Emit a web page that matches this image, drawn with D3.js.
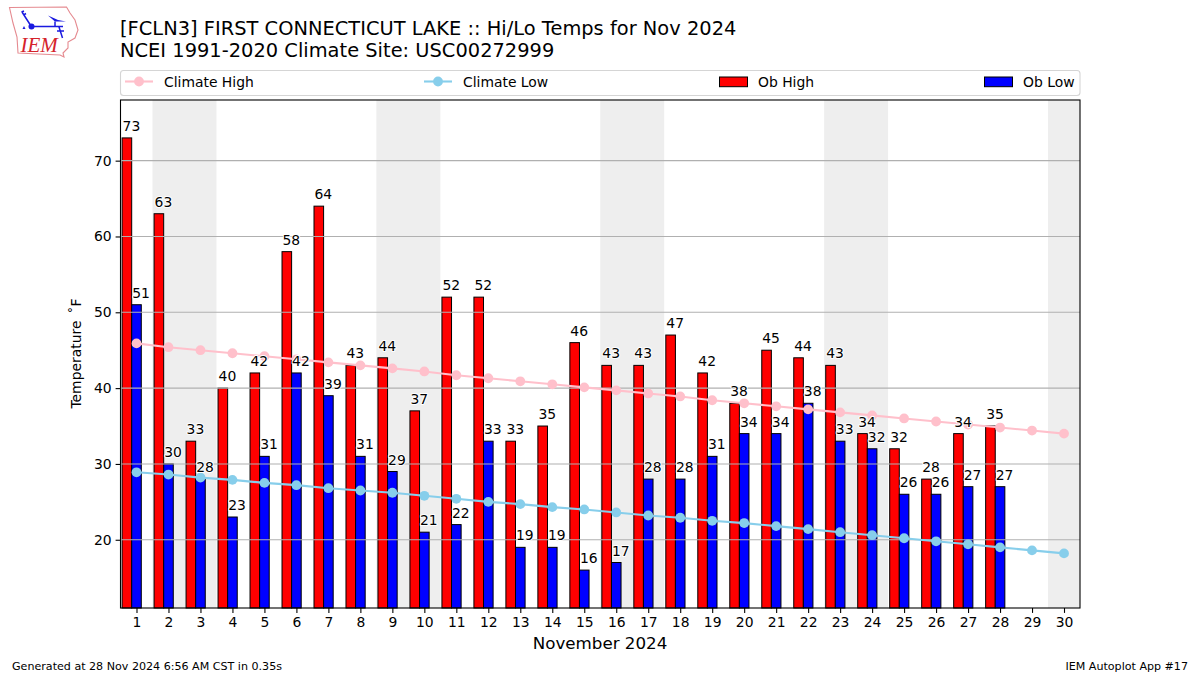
<!DOCTYPE html>
<html><head><meta charset="utf-8">
<script src="https://cdn.jsdelivr.net/npm/d3@7"></script>
<style>
html,body{margin:0;padding:0;background:#fff}
svg{display:block}
text{font-family:"DejaVu Sans",sans-serif;fill:#000}
</style></head><body>
<script>
const days = d3.range(1, 31);
const obDays = d3.range(1, 29);
const obHigh = [73,63,33,40,42,58,64,43,44,37,52,52,33,35,46,43,43,47,42,38,45,44,43,34,32,28,34,35];
const obLow = [51,30,28,23,31,42,39,31,29,21,22,33,19,19,16,17,28,28,31,34,34,38,33,32,26,26,27,27];
const climateHigh = [45.9,45.4,45.0,44.6,44.2,43.8,43.4,43.0,42.6,42.2,41.7,41.3,40.9,40.5,40.1,39.7,39.3,38.9,38.4,38.0,37.6,37.2,36.8,36.4,36.0,35.6,35.2,34.8,34.4,34.0];
const climateLow = [28.9,28.6,28.2,27.9,27.5,27.2,26.8,26.5,26.2,25.8,25.4,25.0,24.7,24.3,24.0,23.6,23.2,22.9,22.5,22.2,21.8,21.4,21.0,20.6,20.2,19.8,19.4,19.0,18.6,18.2];
const weekendSpans = [[1.5,3.5],[8.5,10.5],[15.5,17.5],[22.5,24.5],[29.5,30.5]];
const yTicks = [20,30,40,50,60,70];
const titleLines = ["[FCLN3] FIRST CONNECTICUT LAKE :: Hi/Lo Temps for Nov 2024","NCEI 1991-2020 Climate Site: USC00272999"];

const W=1200,H=675,L=120.5,R=1080,T=100,B=608;
const svg=d3.select("body").append("svg").attr("width",W).attr("height",H);
const x=d3.scaleLinear().domain([0.5,30.5]).range([L,R]);
const y=d3.scaleLinear().domain([11,78]).range([B,T]);

// logo
const logo=svg.append("g").attr("fill","none");
logo.append("path").attr("d","M9.5,7.5 L66.5,7 L70,13 L75,20 L78,30 L75,38 L68,42 L68,48 L63,53 L64,57 L60,55 L18,53 L17,37 L13,23 Z")
  .attr("stroke","#e58a90").attr("stroke-width",1.1);
const blue="#1a1ae0";
logo.append("path").attr("d","M31.5,26.5 H63 M22,12 L31,26 M21.5,12 L24,11 M23.5,15 L26,13.5 M55,21.5 V27 M59,27 L62.5,38 M57,31 H64")
  .attr("stroke",blue).attr("stroke-width",1.5);
logo.append("circle").attr("cx",31.5).attr("cy",26.5).attr("r",3).attr("fill",blue);
logo.append("path").attr("d","M48,15.5 L58,20 L66,21.5 L55,21.5 Z").attr("fill",blue);
logo.append("path").attr("d","M24,26 L25.5,29 L22.5,29 Z").attr("fill",blue);
logo.append("text").attr("x",20.5).attr("y",52).text("IEM")
  .style("font-family","'Liberation Serif',serif").style("font-style","italic").style("font-size","21px").style("fill","#d5232b");

// titles
svg.selectAll("text.title").data(titleLines).join("text").attr("class","title")
  .attr("x",120).attr("y",(d,i)=>35+i*22).style("font-size","19.4px").style("letter-spacing","0.02px").text(d=>d);

// shading
svg.selectAll("rect.wk").data(weekendSpans).join("rect").attr("class","wk")
  .attr("x",d=>x(d[0])).attr("width",d=>x(d[1])-x(d[0])).attr("y",T).attr("height",B-T).attr("fill","#eeeeee");

// bars
const bw=0.3;
const bars=(data,off,fill)=>svg.append("g").selectAll("rect").data(data).join("rect")
  .attr("x",(d,i)=>x(obDays[i]+off)).attr("width",x(bw)-x(0))
  .attr("y",d=>y(d)).attr("height",d=>B-y(d))
  .attr("fill",fill).attr("stroke","#000").attr("stroke-width",1);
bars(obHigh,-0.45,"#ff0000");
bars(obLow,-0.15,"#0000ff");

// grid
svg.append("g").selectAll("line").data(yTicks).join("line")
  .attr("x1",L).attr("x2",R).attr("y1",d=>y(d)).attr("y2",d=>y(d))
  .attr("stroke","#b0b0b0").attr("stroke-width",1.1);

// climate lines
const line=d3.line().x((d,i)=>x(days[i])).y(d=>y(d));
const series=(vals,color)=>{
  svg.append("path").datum(vals).attr("d",line).attr("fill","none").attr("stroke",color).attr("stroke-width",2.1);
  svg.append("g").selectAll("circle").data(vals).join("circle")
    .attr("cx",(d,i)=>x(days[i])).attr("cy",d=>y(d)).attr("r",4.9).attr("fill",color);
};
series(climateHigh,"#ffc0cb");
series(climateLow,"#87ceeb");

// value labels
const labels=(data,off)=>svg.append("g").selectAll("text").data(data).join("text")
  .attr("x",(d,i)=>x(obDays[i]+off)+0.5).attr("y",d=>y(d)-7)
  .style("font-size","13.9px")
  .attr("stroke","#fff").attr("stroke-width",2).attr("stroke-linejoin","round").attr("paint-order","stroke")
  .text(d=>d);
labels(obHigh,-0.45);
labels(obLow,-0.15);

// axes frame
const xAxis=d3.axisBottom(x).tickValues(days).tickFormat(d3.format("d")).tickSize(4.9).tickPadding(4);
const yAxis=d3.axisLeft(y).tickValues(yTicks).tickFormat(d3.format("d")).tickSize(4.9).tickPadding(4);
const gx=svg.append("g").attr("transform",`translate(0,${B})`).call(xAxis);
const gy=svg.append("g").attr("transform",`translate(${L},0)`).call(yAxis);
[gx,gy].forEach(g=>{g.select(".domain").remove();g.selectAll("text").style("font-size","13.9px").style("font-family","'DejaVu Sans',sans-serif");g.selectAll("line").attr("stroke","#000").attr("stroke-width",1.1);});
svg.append("rect").attr("x",L).attr("y",T).attr("width",R-L).attr("height",B-T).attr("fill","none").attr("stroke","#000").attr("stroke-width",1.1);

svg.append("text").attr("x",600).attr("y",649).attr("text-anchor","middle").style("font-size","16.7px").text("November 2024");
svg.append("text").attr("transform","translate(81,353.5) rotate(-90)").attr("text-anchor","middle").style("font-size","13.9px").attr("xml:space","preserve").text("Temperature \u2009\u02DAF");

// legend
svg.append("rect").attr("x",120.5).attr("y",70.5).attr("width",959.5).attr("height",25).attr("rx",3).attr("fill","#fff").attr("stroke","#d5d5d5").attr("stroke-width",1.1);
const lg=svg.append("g");
const ltxt=(xp,t)=>lg.append("text").attr("x",xp).attr("y",86.5).style("font-size","13.9px").text(t);
const lline=(xp,c)=>{lg.append("line").attr("x1",xp).attr("x2",xp+28).attr("y1",81.5).attr("y2",81.5).attr("stroke",c).attr("stroke-width",2.1);
  lg.append("circle").attr("cx",xp+14).attr("cy",81.5).attr("r",4.9).attr("fill",c);};
const lbox=(xp,c)=>lg.append("rect").attr("x",xp).attr("y",77).attr("width",28).attr("height",9.7).attr("fill",c).attr("stroke","#000").attr("stroke-width",1);
lline(125,"#ffc0cb");ltxt(164,"Climate High");
lline(424,"#87ceeb");ltxt(463,"Climate Low");
lbox(719.5,"#ff0000");ltxt(758,"Ob High");
lbox(984.5,"#0000ff");ltxt(1023,"Ob Low");

// footer
svg.append("text").attr("x",12).attr("y",670).style("font-size","11.1px").text("Generated at 28 Nov 2024 6:56 AM CST in 0.35s");
svg.append("text").attr("x",1188).attr("y",670).attr("text-anchor","end").style("font-size","11.1px").text("IEM Autoplot App #17");
</script>
</body></html>
